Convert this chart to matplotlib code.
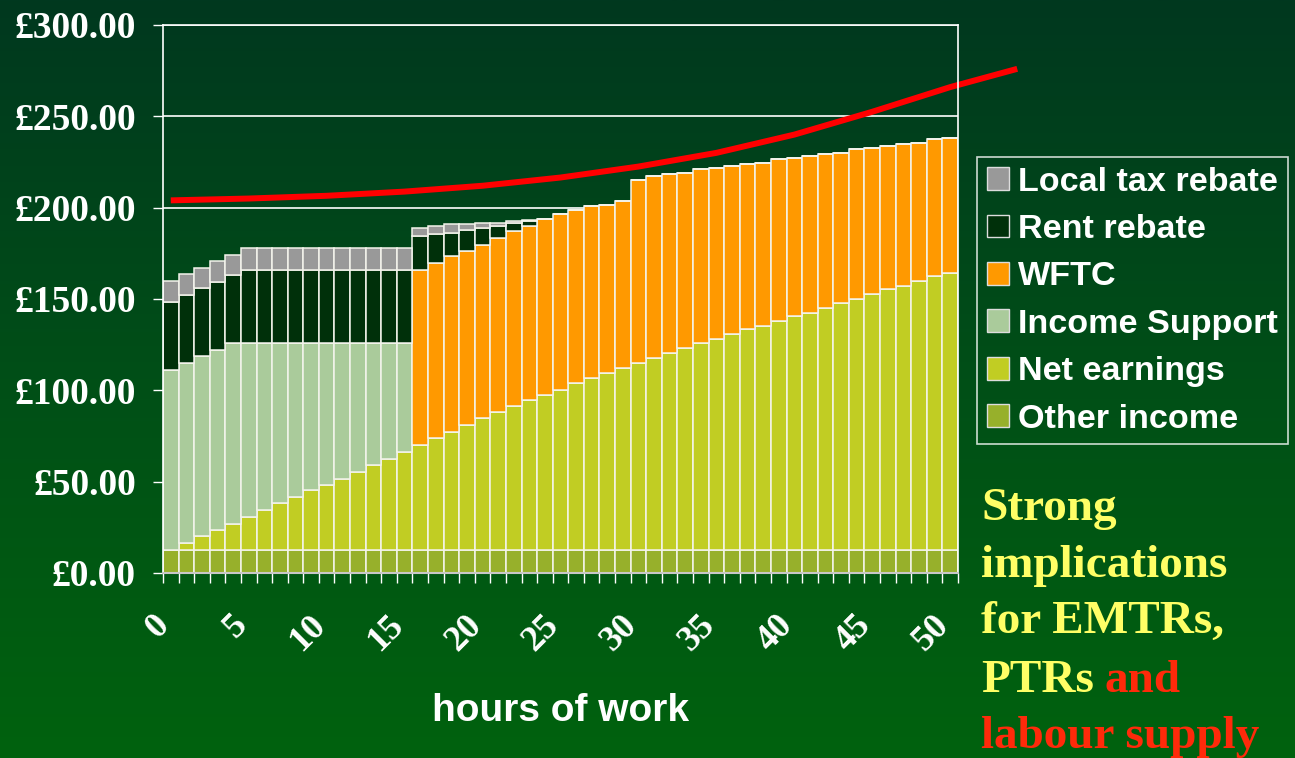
import numpy as np
import matplotlib
matplotlib.use("Agg")
import matplotlib.pyplot as plt
from matplotlib.patches import Patch
from matplotlib.colors import LinearSegmentedColormap
from matplotlib.transforms import ScaledTranslation

# ---------------- data ----------------
hours = list(range(51))

other_income = [12.8, 12.8, 12.8, 12.8, 12.8, 12.8, 12.8, 12.8, 12.8, 12.8,
                12.8, 12.8, 12.8, 12.8, 12.8, 12.8, 12.8, 12.8, 12.8, 12.8,
                12.8, 12.8, 12.8, 12.8, 12.8, 12.8, 12.8, 12.8, 12.8, 12.8,
                12.8, 12.8, 12.8, 12.8, 12.8, 12.8, 12.8, 12.8, 12.8, 12.8,
                12.8, 12.8, 12.8, 12.8, 12.8, 12.8, 12.8, 12.8, 12.8, 12.8,
                12.8]

net_earnings = [0.0, 3.6, 7.3, 11.0, 14.2, 18.1, 21.7, 25.5, 28.8, 32.6,
                35.6, 38.9, 42.7, 46.5, 49.8, 53.6, 57.3, 60.9, 64.6, 68.2,
                71.9, 75.6, 78.5, 82.1, 84.9, 87.6, 91.2, 93.9, 96.7, 99.4,
                102.2, 104.9, 107.6, 110.6, 113.3, 115.1, 117.9, 120.6, 122.4, 125.2,
                127.9, 129.8, 132.5, 135.2, 137.0, 139.8, 142.5, 144.3, 147.1, 149.8,
                151.6]

income_support = [98.5, 98.6, 98.5, 98.5, 98.9, 95.0, 91.4, 87.6, 84.3, 80.5,
                  77.5, 74.2, 70.4, 66.6, 63.3, 59.5, 0, 0, 0, 0,
                  0, 0, 0, 0, 0, 0, 0, 0, 0, 0,
                  0, 0, 0, 0, 0, 0, 0, 0, 0, 0,
                  0, 0, 0, 0, 0, 0, 0, 0, 0, 0,
                  0]

wftc = [0, 0, 0, 0, 0, 0, 0, 0, 0, 0,
        0, 0, 0, 0, 0, 0, 96.0, 96.1, 96.0, 95.1,
        95.1, 95.0, 95.8, 95.1, 95.9, 95.9, 94.9, 94.0, 92.2, 91.3,
        100.4, 99.5, 97.8, 95.8, 94.9, 94.0, 92.1, 90.3, 89.5, 88.5,
        86.7, 85.7, 83.9, 82.1, 82.1, 80.3, 78.5, 77.6, 75.7, 74.8,
        74.0]

rent_rebate = [37.1, 37.4, 37.4, 37.2, 37.2, 40.2, 40.2, 40.2, 40.2, 40.2,
               40.2, 40.2, 40.2, 40.2, 40.2, 40.2, 18.3, 15.6, 12.7, 11.9,
               9.1, 6.4, 4.5, 2.7, 0, 0, 0, 0, 0, 0,
               0, 0, 0, 0, 0, 0, 0, 0, 0, 0,
               0, 0, 0, 0, 0, 0, 0, 0, 0, 0,
               0]

local_tax_rebate = [11.3, 11.1, 11.2, 11.4, 11.2, 11.8, 11.8, 11.8, 11.8, 11.8,
                    11.8, 11.8, 11.8, 11.8, 11.8, 11.8, 4.6, 4.6, 4.8, 2.9,
                    2.9, 2.0, 1.1, 0.3, 0, 0, 0, 0, 0, 0,
                    0, 0, 0, 0, 0, 0, 0, 0, 0, 0,
                    0, 0, 0, 0, 0, 0, 0, 0, 0, 0,
                    0]

curve_hours = [0, 5, 10, 15, 20, 25, 30, 35, 40, 45, 50, 54.3]
curve_values = [204.0, 205.0, 206.5, 208.8, 212.0, 216.5, 222.5, 230.0, 240.0, 252.5, 266.0, 276.0]

series_names = ["Other income", "Net earnings", "Income Support", "WFTC",
                "Rent rebate", "Local tax rebate"]
series_colors = ["#97B02B", "#C1CD23", "#AACB9B", "#FF9900", "#00300A", "#999999"]

x_tick_values = [0, 5, 10, 15, 20, 25, 30, 35, 40, 45, 50]
y_tick_values = [0, 50, 100, 150, 200, 250, 300]

# ---------------- figure ----------------
W, H = 1295, 758
fig = plt.figure(figsize=(W / 100, H / 100), dpi=100)

# gradient background
bg = fig.add_axes([0, 0, 1, 1], zorder=-10)
cmap = LinearSegmentedColormap.from_list("bg", ["#00381F", "#004F17", "#00620E"])
grad = np.linspace(0, 1, 256).reshape(-1, 1)
bg.imshow(grad, aspect="auto", cmap=cmap, extent=[0, 1, 0, 1], origin="upper")
bg.axis("off")

ax = fig.add_axes([163 / W, 1 - 573 / H, (958 - 163) / W, (573 - 25) / H])
ax.set_facecolor("none")

serif = "Liberation Serif"
sans = "Liberation Sans"

series = [other_income, net_earnings, income_support, wftc, rent_rebate, local_tax_rebate]
bottom = np.zeros(len(hours))
for vals, name, col in zip(series, series_names, series_colors):
    v = np.array(vals, dtype=float)
    ax.bar(hours, v, bottom=bottom, width=1.0, color=col, edgecolor="#F4F4EC",
           linewidth=1.1, zorder=3, label=name)
    bottom = bottom + v

# red curve (extends past the plot area)
ax.plot(curve_hours, curve_values, color="#FF0000", lw=4.3, zorder=5,
        clip_on=False, solid_capstyle="butt")

ax.set_xlim(-0.5, 50.5)
ax.set_ylim(0, 300)

# grid
ax.set_yticks(y_tick_values)
ax.yaxis.grid(True, color="white", lw=1.2, zorder=0)
ax.set_axisbelow(True)

ax.set_yticklabels(["£{:.2f}".format(v) for v in y_tick_values],
                   fontfamily=serif, fontweight="bold", fontsize=27, color="white")
ax.tick_params(axis="y", direction="out", length=7.5, width=1, color="white", pad=12)

ax.set_xticks(x_tick_values)
ax.set_xticks(np.arange(-0.5, 51, 1), minor=True)
ax.tick_params(axis="x", which="major", length=0, pad=34)
ax.tick_params(axis="x", which="minor", direction="out", length=7.5, width=1, color="white")
ax.set_xticklabels([str(v) for v in x_tick_values], fontfamily=serif,
                   fontweight="bold", fontsize=26, color="white",
                   rotation=45, ha="right", va="center", rotation_mode="anchor")
offset = ScaledTranslation(-6 / 100, 0, fig.dpi_scale_trans)
for lab in ax.get_xticklabels():
    lab.set_transform(lab.get_transform() + offset)

for side in ["left", "right", "top"]:
    ax.spines[side].set_color("white")
    ax.spines[side].set_linewidth(1.2)
ax.spines["bottom"].set_color("#C8C8C8")
ax.spines["bottom"].set_linewidth(1.5)
for sp in ax.spines.values():
    sp.set_zorder(6)

fig.text(561 / W, 1 - 711 / H, "hours of work", fontfamily=sans, fontweight="bold",
         fontsize=28, color="white", ha="center", va="center")

# legend
leg_handles = [Patch(facecolor=c, edgecolor="#DDDDDD", linewidth=1) for c in series_colors][::-1]
leg = fig.legend(leg_handles, series_names[::-1], loc="upper left",
                 bbox_to_anchor=(977 / W, 1 - 157 / H), borderaxespad=0,
                 frameon=True, fancybox=False, handlelength=0.65, handleheight=0.65,
                 handletextpad=0.28, labelspacing=0.48, borderpad=0.28,
                 prop={"family": sans, "weight": "bold", "size": 24.6})
leg.get_frame().set_facecolor("none")
leg.get_frame().set_edgecolor("white")
leg.get_frame().set_linewidth(1.2)
for t in leg.get_texts():
    t.set_color("white")

# side text
yellow = "#FFFF66"
red = "#FF2A0A"
tx = 981 / W
baselines = [520, 577, 633, 692, 748]
lines = ["Strong", "implications", "for EMTRs,", "PTRs", "labour supply"]
cols = [yellow, yellow, yellow, yellow, red]
tobjs = []
for b, s, c in zip(baselines, lines, cols):
    t = fig.text(tx, 1 - b / H, s, fontfamily=serif, fontweight="bold", fontsize=34,
                 color=c, ha="left", va="baseline")
    tobjs.append(t)
fig.canvas.draw()
r = fig.canvas.get_renderer()
bb = tobjs[3].get_window_extent(r)
space_px = 11
fig.text((bb.x1 + space_px) / W, 1 - baselines[3] / H, "and", fontfamily=serif,
         fontweight="bold", fontsize=34, color=red, ha="left", va="baseline")

fig.savefig("out.png", dpi=100)
